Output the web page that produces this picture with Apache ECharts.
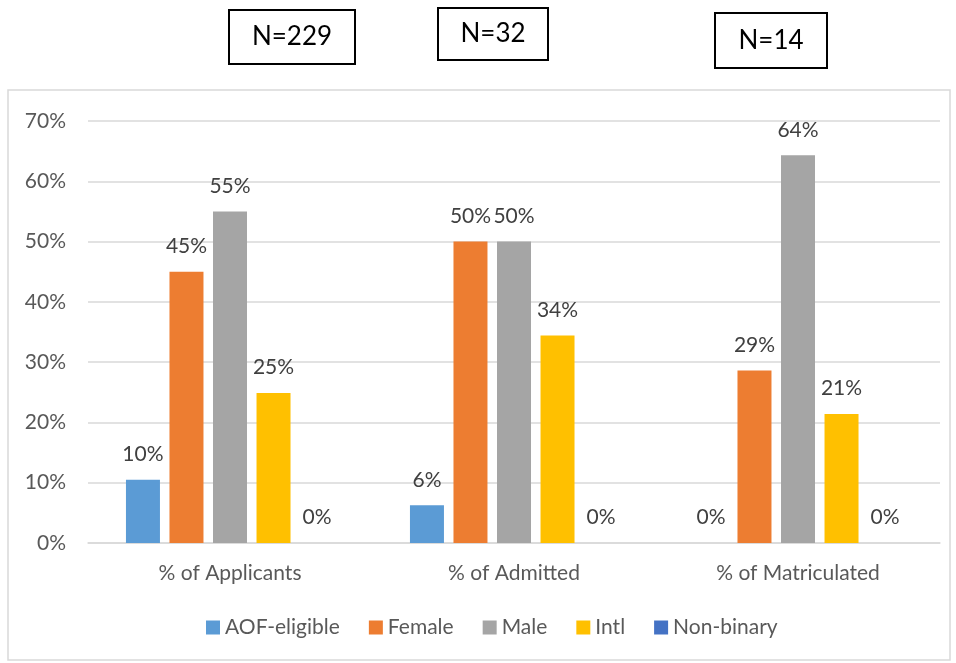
<!DOCTYPE html>
<html>
<head>
<meta charset="utf-8">
<script src="https://cdn.jsdelivr.net/npm/echarts@6/dist/echarts.min.js"></script>
<style>
html,body{margin:0;padding:0;background:#fff;}
#chart{width:956px;height:663px;}
</style>
</head>
<body>
<div id="chart"></div>
<script>
var categories = ['% of Applicants', '% of Admitted', '% of Matriculated'];
var seriesNames = ['AOF-eligible', 'Female', 'Male', 'Intl', 'Non-binary'];
var aofEligible = [10.48, 6.25, 0];
var female = [45, 50, 28.6];
var male = [55, 50, 64.3];
var intl = [24.9, 34.4, 21.4];
var nonBinary = [0, 0, 0];
var yTicks = [0, 10, 20, 30, 40, 50, 60, 70];
var nLabels = ['N=229', 'N=32', 'N=14'];

var colors = ['#5B9BD5', '#ED7D31', '#A5A5A5', '#FFC000', '#4472C4'];
var values = [aofEligible, female, male, intl, nonBinary];
var font = 'Lato, "Open Sans", sans-serif';

var myChart = echarts.init(document.getElementById('chart'));

var series = [];
for (var i = 0; i < seriesNames.length; i++) {
  series.push({
    name: seriesNames[i],
    type: 'bar',
    data: values[i],
    barWidth: 34,
    barGap: '28%',
    itemStyle: { color: colors[i] },
    label: {
      show: true,
      position: 'top',
      distance: 15,
      fontSize: 21,
      fontFamily: font,
      color: '#404040',
      formatter: function (p) { return Math.round(p.value) + '%'; }
    }
  });
}

// boxes with N counts above the chart
var boxes = [[229, 10, 126, 54], [438, 8, 110, 52], [715, 13, 112, 55]];
var graphics = [{
  type: 'rect',
  shape: { x: 8, y: 90, width: 942, height: 570 },
  style: { fill: null, stroke: '#d9d9d9', lineWidth: 1.5 },
  silent: true
}];
for (var k = 0; k < nLabels.length; k++) {
  var b = boxes[k];
  graphics.push({
    type: 'rect',
    shape: { x: b[0], y: b[1], width: b[2], height: b[3] },
    style: { fill: '#fff', stroke: '#000', lineWidth: 2 },
    silent: true
  });
  graphics.push({
    type: 'text',
    x: b[0] + b[2] / 2,
    y: b[1] + b[3] / 2,
    style: {
      text: nLabels[k],
      fontSize: 26,
      fontFamily: font,
      fill: '#000',
      align: 'center',
      verticalAlign: 'middle'
    },
    silent: true
  });
}

var option = {
  animation: false,
  backgroundColor: '#fff',
  grid: { left: 88, right: 16, top: 121, bottom: 120 },
  legend: {
    data: seriesNames,
    top: 612,
    left: 201,
    itemWidth: 14,
    itemHeight: 14,
    itemGap: 29,
    icon: 'rect',
    textStyle: { fontSize: 21, fontFamily: font, color: '#595959' }
  },
  xAxis: {
    type: 'category',
    data: categories,
    axisLine: { lineStyle: { color: '#d9d9d9', width: 1.5 } },
    axisTick: { show: false },
    axisLabel: { fontSize: 21, fontFamily: font, color: '#595959', margin: 20 }
  },
  yAxis: {
    type: 'value',
    min: yTicks[0],
    max: yTicks[yTicks.length - 1],
    interval: 10,
    axisLine: { show: false },
    axisTick: { show: false },
    splitLine: { lineStyle: { color: '#d9d9d9', width: 1.5 } },
    axisLabel: {
      fontSize: 21,
      fontFamily: font,
      color: '#595959',
      margin: 22,
      formatter: '{value}%'
    }
  },
  series: series,
  graphic: graphics
};
myChart.setOption(option);
</script>
</body>
</html>
